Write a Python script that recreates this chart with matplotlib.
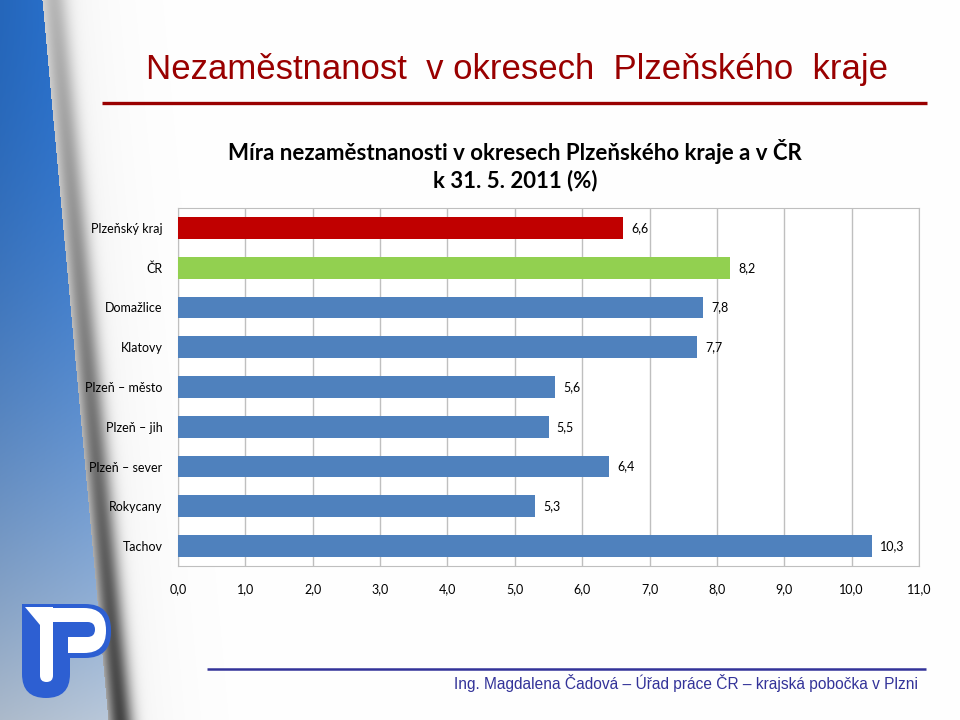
import matplotlib
matplotlib.use("Agg")
import matplotlib.pyplot as plt
import numpy as np
from matplotlib.patches import FancyBboxPatch, Rectangle, Polygon

# data
okresy = ["Plzeňský kraj", "ČR", "Domažlice", "Klatovy", "Plzeň – město",
          "Plzeň – jih", "Plzeň – sever", "Rokycany", "Tachov"]
mira = [6.6, 8.2, 7.8, 7.7, 5.6, 5.5, 6.4, 5.3, 10.3]
barvy = ["#C00000", "#92D050"] + ["#4F81BD"] * 7
xticks = list(range(0, 12))

title = "Nezaměstnanost  v okresech  Plzeňského  kraje"
chart_title = "Míra nezaměstnanosti v okresech Plzeňského kraje a v ČR\nk 31. 5. 2011 (%)"
footer = "Ing. Magdalena Čadová – Úřad práce ČR – krajská pobočka v Plzni"

narrow = ["Liberation Sans", "DejaVu Sans"]
calib = ["Lato", "DejaVu Sans"]

fig = plt.figure(figsize=(9.6, 7.2), dpi=100)

# background: blue slanted band with shadow on the left
bg = fig.add_axes([0, 0, 1, 1])
bg.set_xlim(0, 960)
bg.set_ylim(720, 0)
bg.axis("off")

yy, xx = np.mgrid[0:720, 0:960].astype(float)
t = yy / 720.0
edge = 42 + 66 * t
d = xx - edge
top = np.array([40, 110, 200]) / 255.0
bot = np.array([185, 200, 218]) / 255.0
w = (t ** 1.8)[..., None]
blue = top * (1 - w) + bot * w
blue = blue * (0.93 + 0.07 * np.clip(xx / (edge + 1), 0, 1))[..., None]
shade_amp = 0.22 + 0.45 * t
shadow = 1 - shade_amp * np.exp(-((d - 12) / 13.0) ** 2) - 0.08 * np.exp(-d / 40.0)
img = np.where((d < 0)[..., None], blue, np.repeat(shadow[..., None], 3, axis=2))
img = np.clip(img, 0, 1)
bg.imshow(img, extent=(0, 960, 720, 0), aspect="auto", zorder=0)

# logo
lc = "#2D5FD2"
bg.add_patch(FancyBboxPatch((22, 604), 89, 54, boxstyle="round,pad=0,rounding_size=26", fc=lc, ec="none", zorder=2))
bg.add_patch(Rectangle((22, 604), 40, 54, fc=lc, ec="none", zorder=2))
bg.add_patch(FancyBboxPatch((22, 604), 48, 94, boxstyle="round,pad=0,rounding_size=24", fc=lc, ec="none", zorder=2))
bg.add_patch(Rectangle((22, 604), 48, 40, fc=lc, ec="none", zorder=2))
bg.add_patch(FancyBboxPatch((46, 608), 60, 45, boxstyle="round,pad=0,rounding_size=22", fc="white", ec="none", zorder=3))
bg.add_patch(Rectangle((46, 608), 22, 45, fc="white", ec="none", zorder=3))
bg.add_patch(Polygon([(25, 607), (53, 607), (53, 640), (40, 625)], closed=True, fc="white", ec="none", zorder=3))
bg.add_patch(FancyBboxPatch((40, 622), 13, 60, boxstyle="round,pad=0,rounding_size=6.5", fc="white", ec="none", zorder=3))
bg.add_patch(Rectangle((40, 622), 13, 20, fc="white", ec="none", zorder=3))
bg.add_patch(FancyBboxPatch((53, 622), 42, 15, boxstyle="round,pad=0,rounding_size=7.5", fc=lc, ec="none", zorder=4))
bg.add_patch(Rectangle((53, 622), 15, 36, fc=lc, ec="none", zorder=4))

# titles and lines
bg.text(517, 70, title, ha="center", va="center", fontsize=25, color="#990000", family=narrow)
bg.plot([102, 927], [103, 103], color="#990000", lw=2.4, solid_capstyle="butt")
bg.text(515, 165, chart_title, ha="center", va="center", fontsize=16, fontweight="bold",
        color="black", family=calib, linespacing=1.3)
bg.plot([207, 926], [669, 669], color="#333399", lw=1.8, solid_capstyle="butt")
bg.text(918, 683, footer, ha="right", va="center", fontsize=11.2, color="#333399", family=narrow)

# chart
ax = fig.add_axes([178 / 960, 1 - 566 / 720, 741 / 960, 358 / 720])
y = np.arange(len(okresy))
ax.barh(y, mira, height=0.55, color=barvy, zorder=3)
for yi, v in zip(y, mira):
    ax.annotate(f"{v:.1f}".replace(".", ","), (v, yi), xytext=(6, 0), textcoords="offset points",
                ha="left", va="center", fontsize=9, family=calib)
ax.set_xlim(0, 11)
ax.set_ylim(len(okresy) - 0.5, -0.5)
ax.set_xticks(xticks)
ax.set_xticklabels([f"{v:.1f}".replace(".", ",") for v in xticks], fontsize=9, family=calib)
ax.set_yticks(y)
ax.set_yticklabels(okresy, fontsize=9, family=calib)
ax.tick_params(axis="x", length=0, pad=12)
ax.tick_params(axis="y", length=0, pad=11)
ax.grid(axis="x", color="#BFBFBF", lw=1, zorder=0)
for s in ax.spines.values():
    s.set_color("#BFBFBF")
ax.set_facecolor("white")

fig.savefig("out.png", dpi=100)
